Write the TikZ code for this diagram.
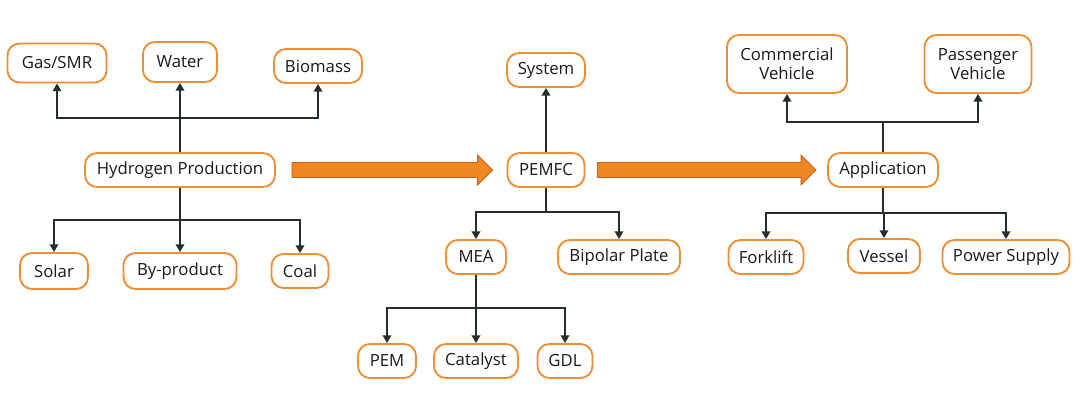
\documentclass[tikz,border=0pt]{standalone}
\usepackage{fontspec}
\setmainfont{Open Sans}
\usepackage{tikz}
\usetikzlibrary{arrows.meta}
\usetikzlibrary{calc}

\definecolor{boxorange}{RGB}{240,140,50}
\definecolor{linkgray}{RGB}{35,45,50}
\definecolor{bigfill}{RGB}{240,135,35}
\definecolor{bigedge}{RGB}{195,100,30}

\tikzset{
  box/.style={draw=boxorange, line width=1.3pt, rounded corners=0.3cm, fill=white,
              text=black!90, minimum height=0.85cm, inner sep=2pt, align=center,
              font=\fontsize{11.9}{13.5}\selectfont},
  link/.style={draw=linkgray, line width=2pt, -{Triangle[length=5.5pt,width=6pt]}},
  bigarrow/.style={fill=bigfill, draw=bigedge, line width=0.6pt}
}

\begin{document}
\begin{tikzpicture}[x=0.025cm, y=-0.025cm]
\useasboundingbox (0,0) rectangle (1080,400);
	\begin{scope}[every node/.style={box}]
		% hydrogen production
		\node[minimum width=2.475cm, minimum height=0.975cm] (GS) at (57,63) {Gas/SMR};
		\node[minimum width=1.85cm, minimum height=1cm] (W) at (180,62) {Water};
		\node[minimum width=2.2cm] (B) at (318,66) {Biomass};
		\node[minimum width=4.75cm] (H) at (180,170) {Hydrogen Production};
		\node[minimum width=1.7cm, minimum height=0.9cm] (So) at (54,271) {Solar};
		\node[minimum width=2.825cm, minimum height=0.9cm] (By) at (180,271) {By-product};
		\node[minimum width=1.425cm] (C) at (300,271) {Coal};
		% fuel cell
		\node[minimum width=1.95cm] (S) at (546,70) {System};
		\node[minimum width=1.925cm] (P) at (546,170) {PEMFC};
		\node[minimum width=1.5cm] (M) at (476,257) {MEA};
		\node[minimum width=3.05cm] (BP) at (619,257) {Bipolar Plate};
		\node[minimum width=1.45cm] (PEM) at (387,361) {PEM};
		\node[minimum width=2.1cm] (Ca) at (476,361) {Catalyst};
		\node[minimum width=1.375cm] (G) at (565,361) {GDL};
		% application
		\node[minimum width=2.75cm] (A) at (883,170) {Application};
		\node[minimum width=3cm, minimum height=1.45cm] (CV) at (787,64) {Commercial\\Vehicle};
		\node[minimum width=2.675cm, minimum height=1.45cm] (PV) at (978,64) {Passenger\\Vehicle};
		\node[minimum width=1.875cm] (F) at (766,257) {Forklift};
		\node[minimum width=1.8cm] (V) at (884,256) {Vessel};
		\node[minimum width=3.175cm] (PS) at (1006,257) {Power Supply};
	\end{scope}

	\coordinate (Hup) at (180,118);
	\coordinate (Hdn) at (180,220);
	\coordinate (Pdn) at (546,212);
	\coordinate (Mdn) at (476,308);
	\coordinate (Aup) at (883,122);
	\coordinate (Adn) at (883,213);

	\begin{scope}[every path/.style={link}]
		\foreach \c in {GS,W,B}
			\draw (H) -- (Hup) -| (\c);
		\foreach \c in {So,By,C}
			\draw (H) -- (Hdn) -| (\c);
		\draw (P) -- (S);
		\foreach \c in {M,BP}
			\draw (P) -- (Pdn) -| (\c);
		\foreach \c in {PEM,Ca,G}
			\draw (M) -- (Mdn) -| (\c);
		\foreach \c in {CV,PV}
			\draw (A) -- (Aup) -| (\c);
		\foreach \c in {F,V,PS}
			\draw (A) -- (Adn) -| (\c);
	\end{scope}

	% big arrows
	\draw[bigarrow] ($(H.east)+(16,-7.5)$) -- ($(P.west)+(-29,-7.5)$) -- ($(P.west)+(-29,-15)$)
		-- ($(P.west)+(-14,0)$) -- ($(P.west)+(-29,15)$) -- ($(P.west)+(-29,7.5)$)
		-- ($(H.east)+(16,7.5)$) -- cycle;
	\draw[bigarrow] ($(P.east)+(12,-7.5)$) -- ($(A.west)+(-26,-7.5)$) -- ($(A.west)+(-26,-15)$)
		-- ($(A.west)+(-11,0)$) -- ($(A.west)+(-26,15)$) -- ($(A.west)+(-26,7.5)$)
		-- ($(P.east)+(12,7.5)$) -- cycle;
\end{tikzpicture}
\end{document}
